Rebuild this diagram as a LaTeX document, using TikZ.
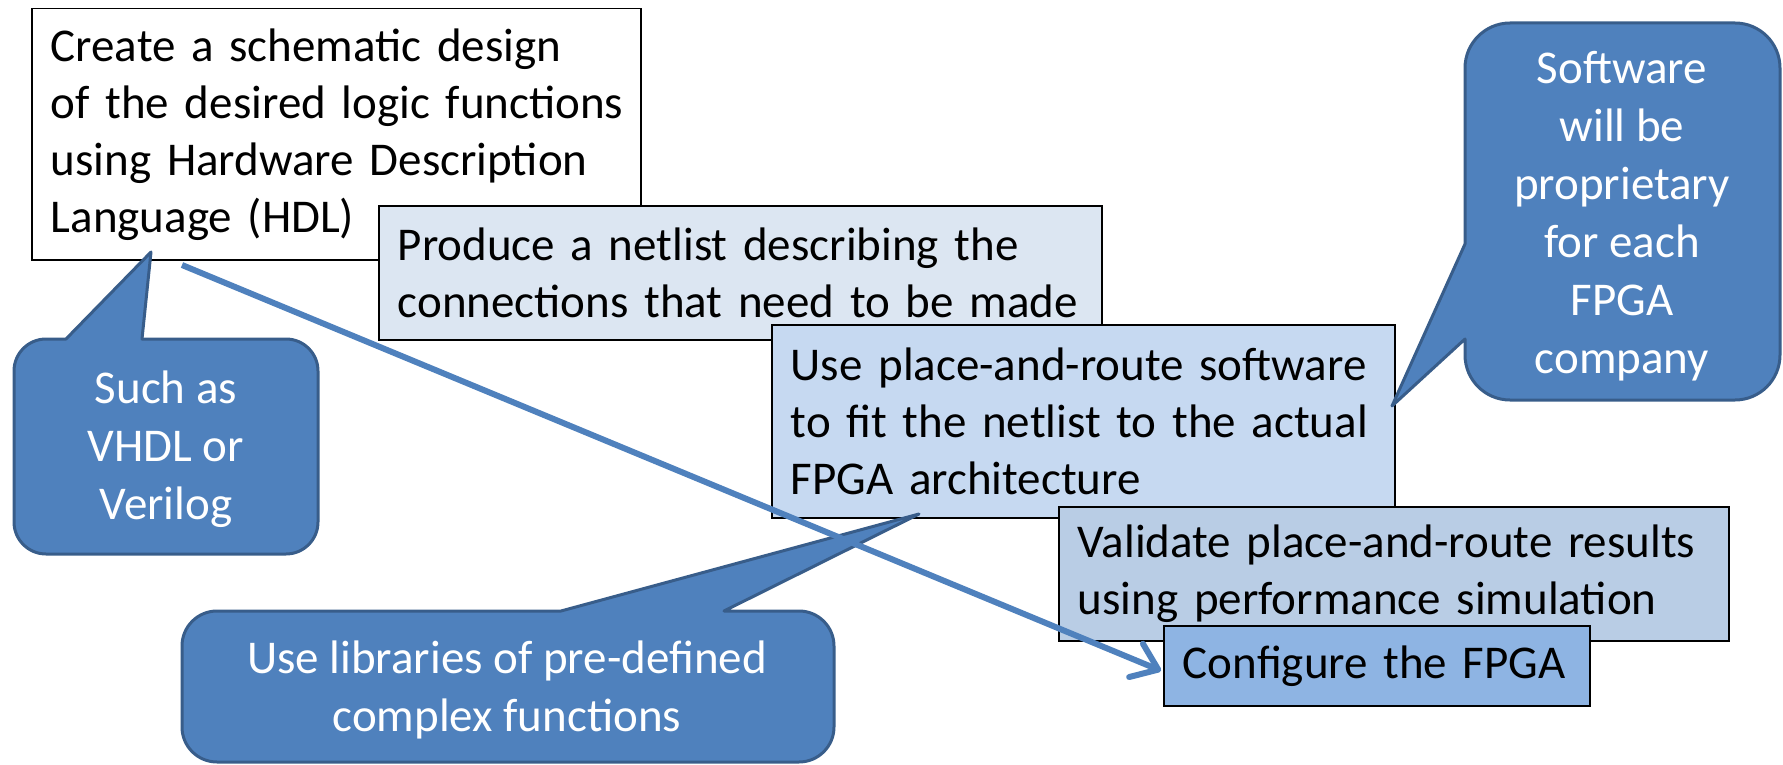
\documentclass[tikz,border=0pt]{standalone}
\usepackage{fontspec}
\setmainfont{Carlito}
\usetikzlibrary{arrows.meta}
\definecolor{cfill}{HTML}{4F81BD}
\definecolor{cline}{HTML}{385D8A}
\definecolor{fillA}{HTML}{DCE6F2}
\definecolor{fillB}{HTML}{C6D9F1}
\definecolor{fillC}{HTML}{B9CDE5}
\definecolor{fillD}{HTML}{8EB4E3}
\begin{document}
\begin{tikzpicture}[x=1pt,y=-1pt,
  every node/.style={font=\fontsize{47}{57}\selectfont},
  stepbox/.style={draw=black, line width=1.5pt, anchor=north west, align=left, inner xsep=19pt, inner ysep=0pt},
  callout/.style={fill=cfill, draw=cline, line width=3pt, line join=round},
  ctext/.style={text=white, align=center, inner sep=0pt, font=\fontsize{47}{58}\selectfont},
  flow/.style={draw=cfill, line width=6pt, -{Straight Barb[length=24pt,width=36pt,round]}}
]
\useasboundingbox (0,0) rectangle (1783,765);

\node[stepbox, fill=white, minimum width=609pt, minimum height=251pt, text width=571pt] (b1) at (31,8)
  {\mbox{Create a schematic design}\\\mbox{of the desired logic functions}\\\mbox{using Hardware Description}\\\mbox{Language (HDL)}};

\draw[callout] (151,252) -- (142,339) [rounded corners=32pt] -- (318,339) -- (318,554) -- (14,554) -- (14,339) [sharp corners] -- (66,339) -- cycle;
\node[ctext] (c1) at (166,449) {Such as\\VHDL or\\Verilog};

\node[stepbox, fill=fillA, minimum width=723pt, minimum height=134pt, text width=685pt] (b2) at (378,205)
  {\mbox{Produce a netlist describing the}\\\mbox{connections that need to be made}};

\node[stepbox, fill=fillB, minimum width=623pt, minimum height=193pt, text width=585pt] (b3) at (771,324)
  {\mbox{Use place-and-route software}\\\mbox{to fit the netlist to the actual}\\\mbox{FPGA architecture}};

\node[stepbox, fill=fillC, minimum width=670pt, minimum height=134pt, text width=632pt] (b4) at (1058,506)
  {\mbox{Validate place-and-route results}\\\mbox{using performance simulation}};

\node[stepbox, fill=fillD, minimum width=426pt, minimum height=80pt, text width=388pt] (b5) at (1163,625)
  {\mbox{Configure the FPGA}};

\draw[callout] (1392,406) -- (1465,339) [rounded corners=45pt] -- (1465,400) -- (1780,400) -- (1780,23) -- (1465,23) [sharp corners] -- (1465,244) -- cycle;
\node[ctext] (c2) at (1622,216) {Software\\will be\\proprietary\\for each\\FPGA\\company};

\draw[callout] (919,514) -- (724,611) [rounded corners=35pt] -- (834,611) -- (834,762) -- (182,762) -- (182,611) [sharp corners] -- (561,611) -- cycle;
\node[ctext] (c3) at (507,690) {Use libraries of pre-defined\\complex functions};

\coordinate (s) at (182,265);
\draw[flow] (s) -- ([xshift=-2pt,yshift=-5pt]b5.west);
\end{tikzpicture}
\end{document}
